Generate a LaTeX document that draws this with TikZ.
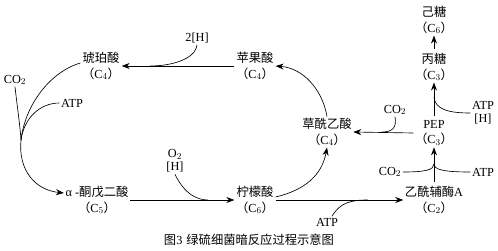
\documentclass[tikz,border=0pt]{standalone}
\usepackage{fontspec}
\setmainfont{Liberation Serif}
\newfontfamily\cjk{Noto Sans CJK SC}
\usetikzlibrary{arrows.meta}
\newcommand{\zh}[1]{{\cjk #1}}
\newcommand{\cc}[1]{{\cjk （}C$_{#1}${\cjk ）}}
\begin{document}
\begin{tikzpicture}[x=1pt,y=-1pt,
  lbl/.style={font=\fontsize{12.3}{15.5}\selectfont, inner sep=1.5pt, align=center},
  arr/.style={line width=0.65pt, -{Stealth[length=8pt,width=6pt]}},
  ln/.style={line width=0.65pt}]
\useasboundingbox (0,0) rectangle (498,251);
% compound nodes
\node[lbl] (hpo) at (101,66) {\zh{琥珀酸}\\\cc{4}};
\node[lbl] (pgs) at (255,66) {\zh{苹果酸}\\\cc{4}};
\node[lbl] (akg) at (97,200) {α -\zh{酮戊二酸}\\\cc{5}};
\node[lbl] (nms) at (255,200) {\zh{柠檬酸}\\\cc{6}};
\node[lbl] (cxy) at (327,132) {\zh{草酰乙酸}\\\cc{4}};
\node[lbl] (pep) at (434,133) {PEP\\\cc{3}};
\node[lbl] (bt) at (434,67) {\zh{丙糖}\\\cc{3}};
\node[lbl] (jt) at (434,20) {\zh{己糖}\\\cc{6}};
\node[lbl] (acoa) at (434,200) {\zh{乙酰辅酶}A\\\cc{2}};
% side labels
\node[lbl] (co2a) at (15,80) {CO$_2$};
\node[lbl] (atpa) at (72,103) {ATP};
\node[lbl] (h2) at (197,38) {2[H]};
\node[lbl] (o2h) at (175,161) {O$_2$\\[-2pt][H]};
\node[lbl] (atpb) at (327,222) {ATP};
\node[lbl] (co2b) at (395,110) {CO$_2$};
\node[lbl] (atph) at (483,113) {ATP\\[-2pt][H]};
\node[lbl] (co2c) at (390,172) {CO$_2$};
\node[lbl] (atpc) at (483,172) {ATP};
\node[lbl] (cap) at (249,240) {\zh{图}3\hspace{4pt}\zh{绿硫细菌暗反应过程示意图}};
% junction coordinates
\coordinate (j1) at (21,140);
\coordinate (j2) at (150,66);
\coordinate (j3) at (208,200);
\coordinate (j4) at (368,200);
\coordinate (j5) at (382,132);
\coordinate (j6) at (434,97);
\coordinate (j7) at (434,164);
% main arrows
\draw[arr] (pgs.west) -- (hpo.east);
\draw[ln] ([yshift=3pt]hpo.west) .. controls (50,72) and (25,105) .. (j1);
\draw[arr] (j1) .. controls (18,170) and (35,190) .. ([yshift=7pt]akg.west);
\draw[ln] (co2a.south) .. controls (17,105) and (20,125) .. (j1);
\draw[ln] (atpa.west) .. controls (40,103) and (24,118) .. (j1);
\draw[ln] (h2.south) .. controls (195,60) and (170,66) .. (j2);
\draw[arr] (akg.east) -- (nms.west);
\draw[ln] (o2h.south) .. controls (185,195) and (198,200) .. (j3);
\draw[arr] (nms.east) -- (acoa.west);
\draw[ln] ([xshift=5pt]atpb.north) .. controls (340,203) and (350,200) .. (j4);
\draw[arr] ([yshift=3pt]nms.east) .. controls (305,190) and (322,175) .. (cxy.south);
\draw[arr] (cxy.north) .. controls (322,88) and (302,68) .. (pgs.east);
\draw[arr] (pep.west) -- (cxy.east);
\draw[ln] (co2b.south) .. controls (397,128) and (392,132) .. (j5);
\draw[arr, shorten <=3pt] (pep.north) -- (bt.south);
\draw[ln] (atph.west) .. controls (450,113) and (435,110) .. (j6);
\draw[arr, shorten <=2pt] (bt.north) -- (jt.south);
\draw[arr, shorten <=2pt] (acoa.north) -- (pep.south);
\draw[ln] (co2c.east) .. controls (425,172) and (434,170) .. (j7);
\draw[ln] (atpc.west) .. controls (445,172) and (434,170) .. (j7);
\end{tikzpicture}
\end{document}
